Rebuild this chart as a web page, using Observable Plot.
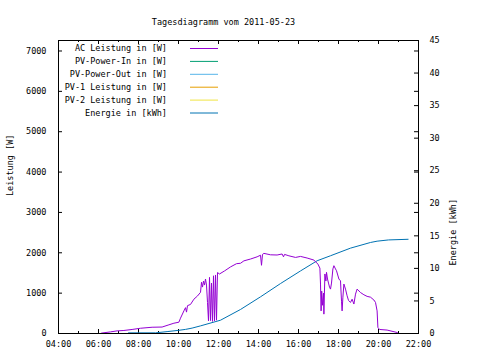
<!DOCTYPE html>
<html>
<head>
<meta charset="utf-8">
<script src="https://cdn.jsdelivr.net/npm/d3@7"></script>
<script src="https://cdn.jsdelivr.net/npm/@observablehq/plot@0.6"></script>
<style>
  html, body { margin: 0; padding: 0; background: #fff; }
</style>
</head>
<body>
<div id="chart"></div>
<script>
// ---- data ----
const title = "Tagesdiagramm vom 2011-05-23";
const yLabel = "Leistung [W]";
const y2Label = "Energie [kWh]";

// AC power: time (decimal hours), watts
const acHours = [6.15,6.6,6.93,7.27,7.68,8.1,8.68,9.18,9.52,9.77,10.02,10.1,10.27,10.35,10.4,10.45,10.6,10.77,10.95,11.1,11.15,11.2,11.25,11.3,11.35,11.4,11.45,11.5,11.55,11.6,11.65,11.7,11.75,11.8,11.85,11.9,11.95,12.05,12.3,12.6,12.9,13.1,13.27,13.6,13.93,14.1,14.15,14.2,14.27,14.6,14.93,15.18,15.25,15.3,15.52,15.85,16.1,16.43,16.77,16.97,17.07,17.1,17.13,17.16,17.2,17.25,17.27,17.32,17.37,17.4,17.45,17.5,17.55,17.6,17.65,17.72,17.77,17.85,17.9,18.02,18.1,18.15,18.18,18.22,18.27,18.35,18.43,18.5,18.6,18.68,18.77,18.85,18.93,19.1,19.27,19.43,19.6,19.77,19.85,19.93,19.97,20.05,20.43,20.93,21.0];
const acWatts = [10,40,65,75,100,130,155,160,215,255,280,380,560,640,530,690,720,850,930,1020,1270,1150,1300,1200,1350,1200,770,310,1390,320,1250,300,1430,310,1450,330,1510,1475,1550,1650,1730,1740,1800,1845,1900,1940,1690,1960,1985,1950,1945,1970,1900,1960,1925,1885,1910,1870,1820,1720,1620,1225,560,1050,700,1000,480,1475,1300,1515,1350,1250,1150,1100,1250,1600,1680,1600,1555,1350,1305,800,560,900,1225,1100,935,820,770,850,730,975,1100,1015,960,920,900,830,770,560,150,100,85,25,0];

// Energy: time (decimal hours), kWh
const enHours = [7.5,8.85,9.43,10.02,10.35,10.68,11.1,12.1,13.1,14.1,15.1,16.1,16.93,17.6,18.6,19.6,19.93,20.5,21.48];
const enKwh   = [0.1,0.1,0.29,0.49,0.63,0.83,1.17,2.04,3.69,5.63,7.67,9.61,11.17,11.94,13.11,13.98,14.18,14.37,14.47];

// Legend series names and colours
const seriesNames  = ["AC Leistung in [W]","PV-Power-In in [W]","PV-Power-Out in [W]","PV-1 Leistung in [W]","PV-2 Leistung in [W]","Energie in [kWh]"];
const seriesColors = ["#9400d3","#009e73","#56b4e9","#e69f00","#f0e442","#0072b2"];

// Axes
const xTicksMajor = [4,6,8,10,12,14,16,18,20,22];
const xTicksMinor = [5,7,9,11,13,15,17,19,21];
const yTicks  = [0,1000,2000,3000,4000,5000,6000,7000];
const y2Ticks = [0,5,10,15,20,25,30,35,40,45];
const yMax = 7260, y2Max = 45;
const k = yMax / y2Max; // energy -> power scale

// ---- build ----
const ac = acHours.map((h,i) => ({h, w: acWatts[i]}));
const en = enHours.map((h,i) => ({h, e: enKwh[i]}));

const W = 480, H = 360;
const mL = 58, mR = 62, mT = 40, mB = 27;
const fw = W - mL - mR, fh = H - mT - mB;
const fmtH = h => String(h).padStart(2,"0") + ":00";

const legendMark = () => {
  const g = d3.create("svg:g")
    .attr("font-family","DejaVu Sans Mono").attr("font-size","8.5px");
  seriesNames.forEach((s,i) => {
    const y = 48.5 + i*12.9;
    g.append("text").attr("x",167).attr("y",y).attr("dy","0.32em")
      .attr("text-anchor","end").attr("fill","#000").text(s);
    g.append("line").attr("x1",190).attr("x2",218).attr("y1",y).attr("y2",y)
      .attr("stroke",seriesColors[i]).attr("stroke-width",1);
  });
  return g.node();
};

const plot = Plot.plot({
  width: W, height: H,
  marginLeft: mL, marginRight: mR, marginTop: mT, marginBottom: mB,
  style: {fontFamily: "DejaVu Sans Mono", fontSize: "8.5px", background: "#fff", color: "#000"},
  x: {domain: [4,22]},
  y: {domain: [0,yMax]},
  marks: [
    Plot.axisX({ticks: xTicksMajor, tickSize: 0, tickPadding: 7, tickFormat: fmtH, label: null}),
    Plot.axisY({ticks: yTicks, tickSize: 0, tickPadding: 12, label: null, tickFormat: d => String(d)}),
    Plot.axisY({anchor: "right", ticks: y2Ticks.map(v => v*k), tickSize: 0, tickPadding: 11, label: null, textAnchor: "start", tickFormat: v => String(Math.round(v/k))}),
    // inward ticks
    Plot.tickX(xTicksMajor, {x: d => d, insetTop: fh-4, stroke: "#000"}),
    Plot.tickX(xTicksMinor, {x: d => d, insetTop: fh-2, stroke: "#000"}),
    Plot.tickX(xTicksMajor, {x: d => d, insetBottom: fh-4, stroke: "#000"}),
    Plot.tickX(xTicksMinor, {x: d => d, insetBottom: fh-2, stroke: "#000"}),
    Plot.tickY(yTicks, {y: d => d, insetRight: fw-4, stroke: "#000"}),
    Plot.tickY(yTicks, {y: d => d, insetLeft: fw-4, stroke: "#000"}),
    Plot.tickY(y2Ticks.map(v => v*k), {y: d => d, insetLeft: fw-4, stroke: "#000"}),
    // data
    Plot.line(en, {x: "h", y: d => d.e * k, stroke: seriesColors[5], strokeWidth: 1}),
    Plot.line(ac, {x: "h", y: "w", stroke: seriesColors[0], strokeWidth: 1}),
    Plot.frame({stroke: "#000"}),
    // titles
    Plot.text([title], {frameAnchor: "top", dx: -15, dy: -22, fill: "#000"}),
    Plot.text([yLabel], {frameAnchor: "left", dx: -48, dy: 9, rotate: -90, fill: "#000"}),
    Plot.text([y2Label], {frameAnchor: "right", dx: 35, dy: 12, rotate: -90, fill: "#000"}),
    legendMark
  ]
});
document.getElementById("chart").append(plot);
</script>
</body>
</html>
